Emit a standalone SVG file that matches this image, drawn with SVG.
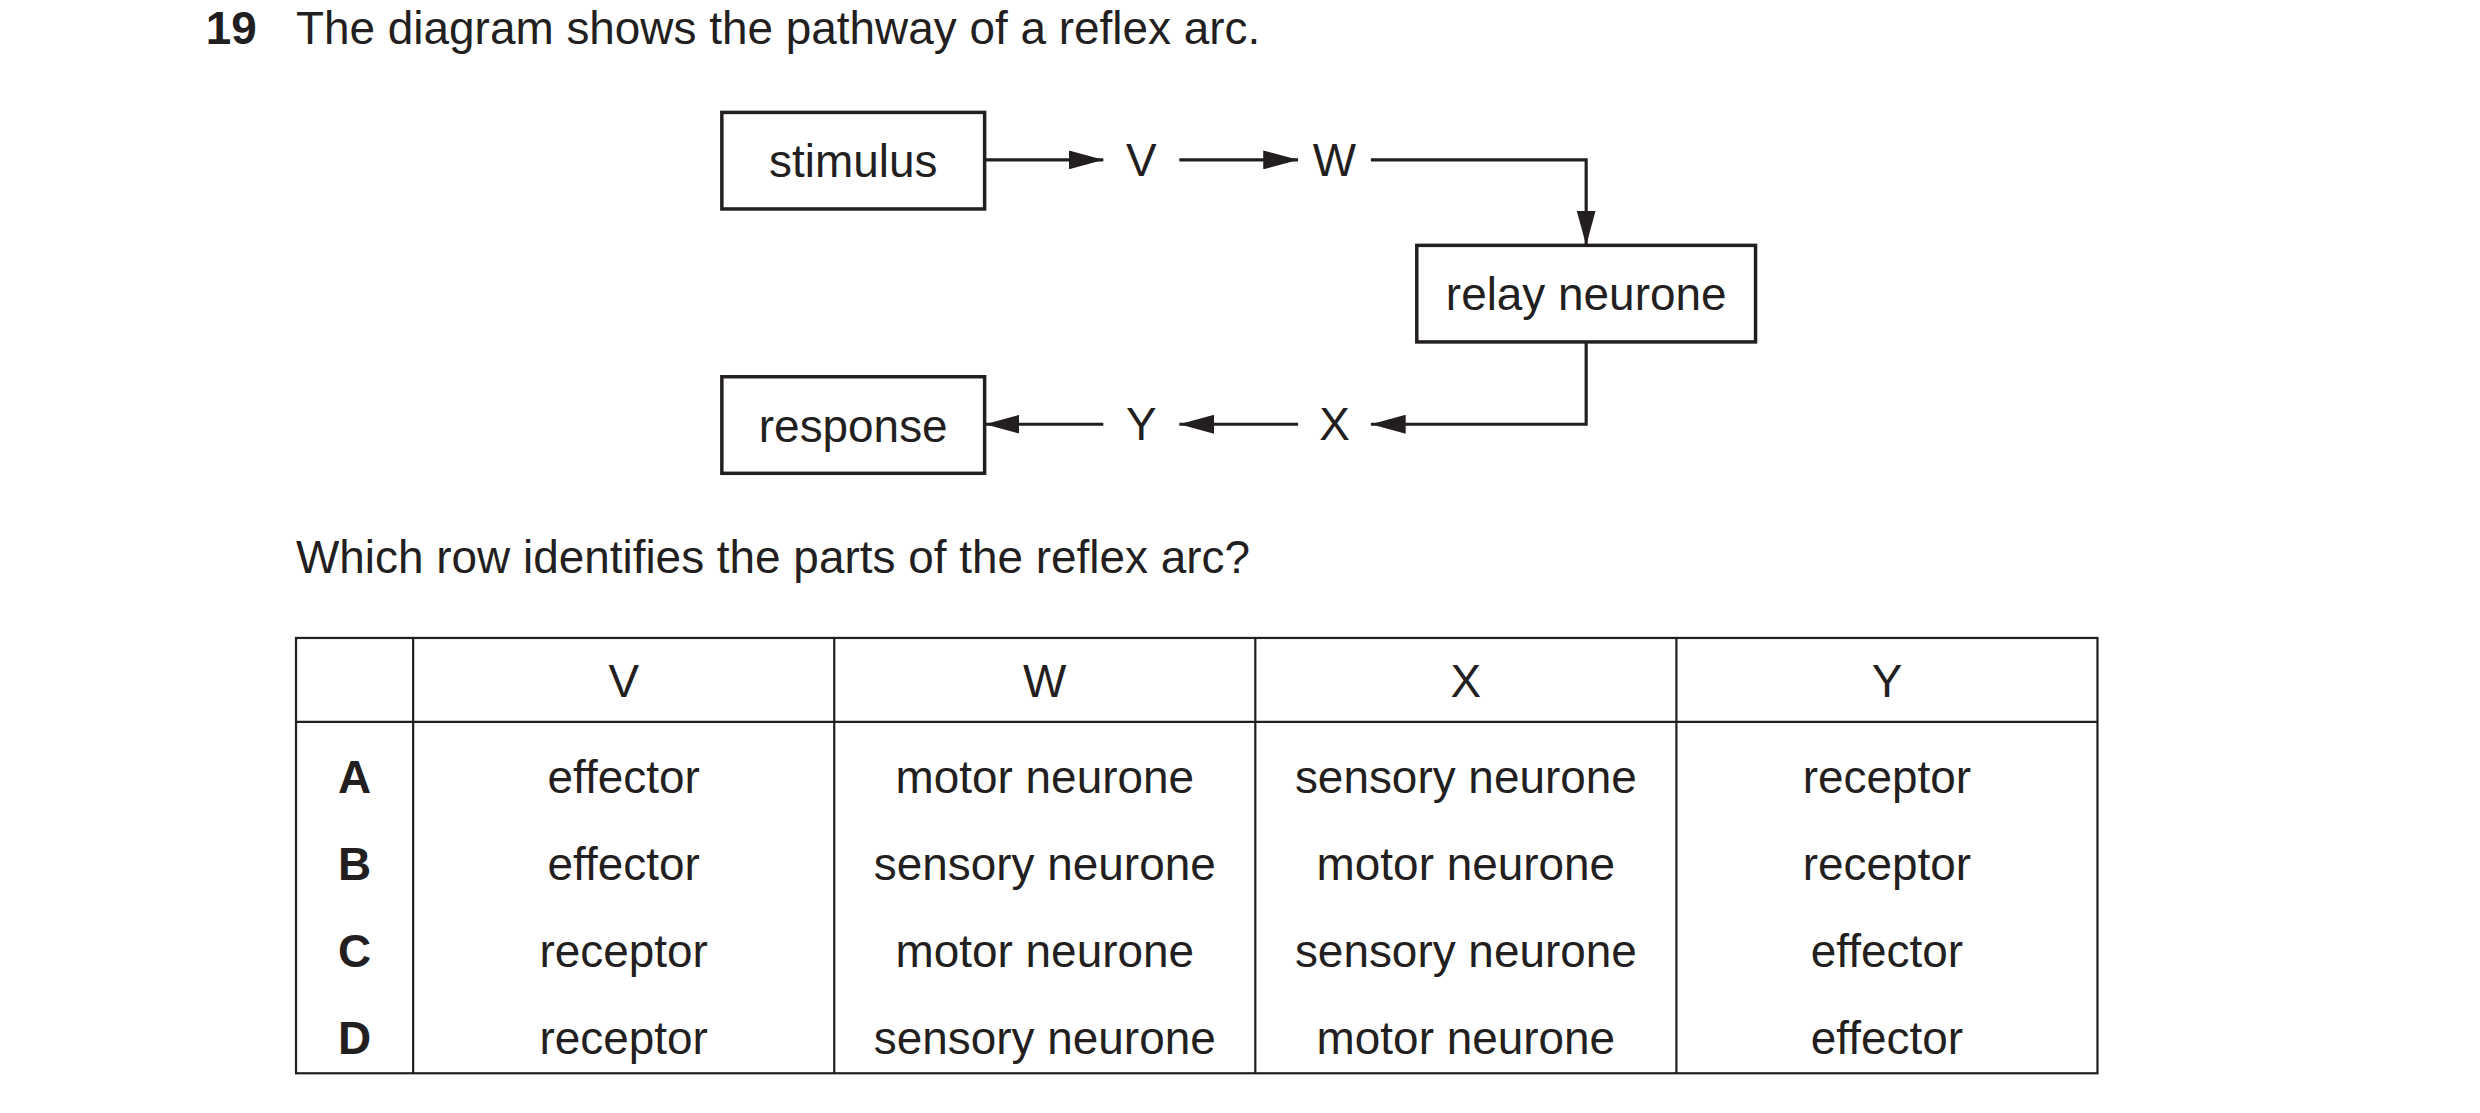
<svg xmlns="http://www.w3.org/2000/svg" width="2480" height="1113" viewBox="0 0 2480 1113">
<style>
text{font-family:"Liberation Sans",Arial,sans-serif;font-size:29px;fill:#231f20}
.c{text-anchor:middle}
.b{font-weight:bold}
.box{fill:none;stroke:#231f20;stroke-width:2.2}
.ln{fill:none;stroke:#231f20;stroke-width:2}
.tb{fill:none;stroke:#231f20;stroke-width:1.4}
</style>
<defs>
<marker id="ah" viewBox="0 0 22 12" refX="22" refY="6" markerWidth="22" markerHeight="12" markerUnits="userSpaceOnUse" orient="auto"><path d="M0,0L22,6L0,12z" fill="#231f20"/></marker>
</defs>
<rect width="2480" height="1113" fill="#fff"/>
<g transform="scale(1.583 1.583)">
<g id="title"><text x="130" y="28" class="b">19</text><text x="187" y="28">The diagram shows the pathway of a reflex arc.</text></g>
<g id="stimulus"><rect class="box" x="456" y="71" width="166" height="61"/><text x="539" y="112" class="c">stimulus</text></g>
<g id="relay"><rect class="box" x="895" y="155" width="214" height="61"/><text x="1002" y="196" class="c">relay neurone</text></g>
<g id="response"><rect class="box" x="456" y="238" width="166" height="61"/><text x="539" y="279" class="c">response</text></g>
<g id="V"><text x="721" y="111" class="c">V</text></g>
<g id="W"><text x="843" y="111" class="c">W</text></g>
<g id="X"><text x="843" y="278" class="c">X</text></g>
<g id="Y"><text x="721" y="278" class="c">Y</text></g>
<g id="connectors">
<path class="ln" d="M622,101H697" marker-end="url(#ah)"/>
<path class="ln" d="M745,101H820" marker-end="url(#ah)"/>
<path class="ln" d="M866,101H1002V155" marker-end="url(#ah)"/>
<path class="ln" d="M1002,216V268H866" marker-end="url(#ah)"/>
<path class="ln" d="M820,268H745" marker-end="url(#ah)"/>
<path class="ln" d="M697,268H622" marker-end="url(#ah)"/>
</g>
<g id="question"><text x="187" y="362">Which row identifies the parts of the reflex arc?</text></g>
<g id="table">
<rect class="tb" x="187" y="403" width="1138" height="275"/>
<path class="tb" d="M261,403V678M527,403V678M793,403V678M1059,403V678M187,456H1325"/>
<text x="394" y="440" class="c">V</text><text x="660" y="440" class="c">W</text><text x="926" y="440" class="c">X</text><text x="1192" y="440" class="c">Y</text>
<text x="224" y="501" class="c b">A</text><text x="394" y="501" class="c">effector</text><text x="660" y="501" class="c">motor neurone</text><text x="926" y="501" class="c">sensory neurone</text><text x="1192" y="501" class="c">receptor</text>
<text x="224" y="556" class="c b">B</text><text x="394" y="556" class="c">effector</text><text x="660" y="556" class="c">sensory neurone</text><text x="926" y="556" class="c">motor neurone</text><text x="1192" y="556" class="c">receptor</text>
<text x="224" y="611" class="c b">C</text><text x="394" y="611" class="c">receptor</text><text x="660" y="611" class="c">motor neurone</text><text x="926" y="611" class="c">sensory neurone</text><text x="1192" y="611" class="c">effector</text>
<text x="224" y="666" class="c b">D</text><text x="394" y="666" class="c">receptor</text><text x="660" y="666" class="c">sensory neurone</text><text x="926" y="666" class="c">motor neurone</text><text x="1192" y="666" class="c">effector</text>
</g>
</g>
</svg>
